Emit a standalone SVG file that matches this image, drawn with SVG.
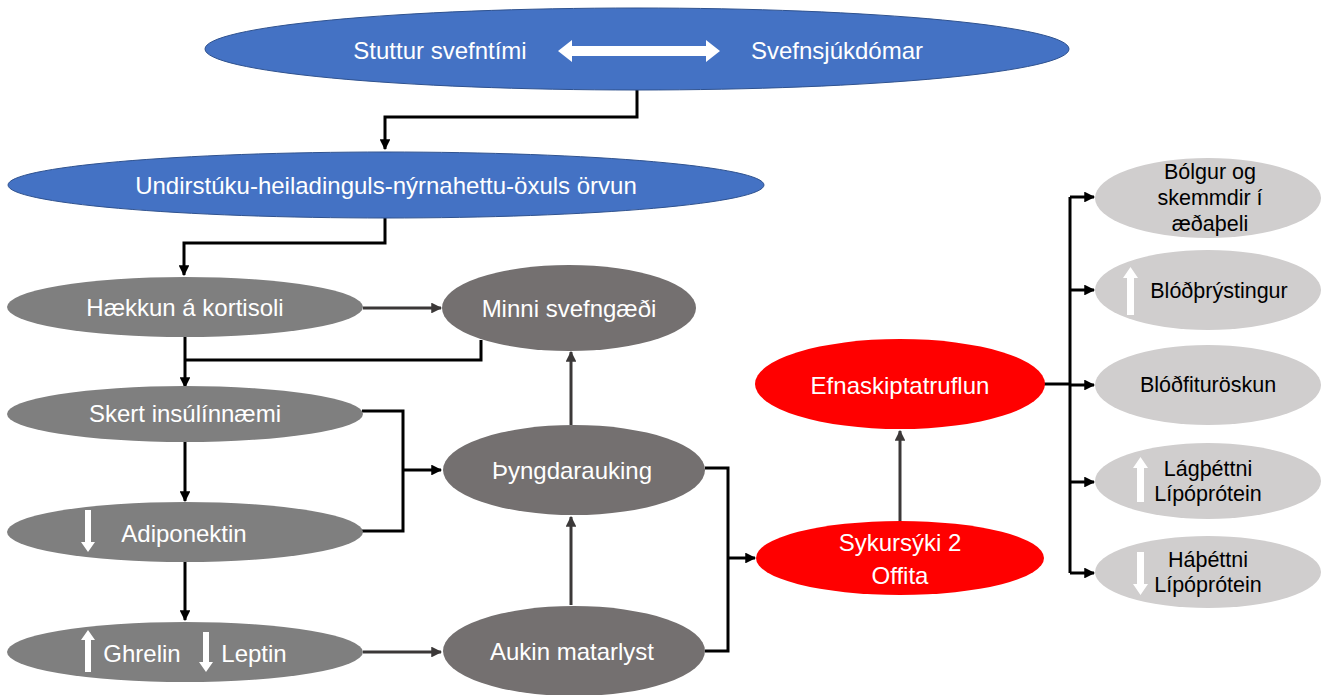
<svg xmlns="http://www.w3.org/2000/svg" width="1325" height="695" viewBox="0 0 1325 695">
<defs>
<marker id="ab" viewBox="0 0 10 10" refX="9" refY="5" markerWidth="3.6" markerHeight="3.6" markerUnits="strokeWidth" orient="auto"><path d="M0,0 L10,5 L0,10 z" fill="#000"/></marker>
<marker id="ag" viewBox="0 0 10 10" refX="9" refY="5" markerWidth="3.6" markerHeight="3.6" markerUnits="strokeWidth" orient="auto"><path d="M0,0 L10,5 L0,10 z" fill="#3b3838"/></marker>
<style>
text{font-family:"Liberation Sans",Arial,sans-serif;text-anchor:middle;dominant-baseline:central}
.w{fill:#fff;font-size:24px}
.k{fill:#000;font-size:21.5px}
.blue{fill:#4472c4;stroke:#2f528f;stroke-width:1}
.g1{fill:#7f7f7f}
.g2{fill:#747070}
.red{fill:#ff0000}
.lg{fill:#d0cece}
.cb{fill:none;stroke:#000;stroke-width:3}
.cg{fill:none;stroke:#3b3838;stroke-width:3}
.wa{fill:#fff}
</style>
</defs>
<g id="connectors">
<path class="cb" d="M637,90 V117 H385 V149" marker-end="url(#ab)"/>
<path class="cb" d="M385,218 V243 H184 V275" marker-end="url(#ab)"/>
<path class="cg" d="M363,308 H441" marker-end="url(#ag)"/>
<path class="cb" d="M185,337 V387" marker-end="url(#ab)"/>
<path class="cb" d="M481,340 V360 H185"/>
<path class="cb" d="M185,442 V501" marker-end="url(#ab)"/>
<path class="cb" d="M185,562 V620" marker-end="url(#ab)"/>
<path class="cb" d="M362,411 H403 V531 H362"/>
<path class="cb" d="M403,470 H441" marker-end="url(#ab)"/>
<path class="cg" d="M363,652 H441" marker-end="url(#ag)"/>
<path class="cg" d="M571,605 V517" marker-end="url(#ag)"/>
<path class="cg" d="M571,425 V352" marker-end="url(#ag)"/>
<path class="cb" d="M705,468 H728 V651 H705"/>
<path class="cb" d="M728,558 H755" marker-end="url(#ab)"/>
<path class="cg" d="M900,521 V431" marker-end="url(#ag)"/>
<path class="cb" d="M1044,384 H1070"/>
<path class="cb" d="M1070,197 V573"/>
<path class="cb" d="M1070,197 H1094" marker-end="url(#ab)"/>
<path class="cb" d="M1070,290 H1094" marker-end="url(#ab)"/>
<path class="cb" d="M1070,385 H1094" marker-end="url(#ab)"/>
<path class="cb" d="M1070,482 H1094" marker-end="url(#ab)"/>
<path class="cb" d="M1070,573 H1094" marker-end="url(#ab)"/>
</g>
<g id="n-top">
<ellipse class="blue" cx="637" cy="49" rx="432" ry="41"/>
<text class="w" x="440" y="50">Stuttur svefntími</text>
<text class="w" x="837" y="50">Svefnsjúkdómar</text>
<polygon class="wa" points="558,51 572,40 572,46 706,46 706,40 720,51 706,62 706,56 572,56 572,62"/>
</g>
<g id="n-hpa">
<ellipse class="blue" cx="386" cy="185" rx="378" ry="33"/>
<text class="w" x="386" y="185">Undirstúku-heiladinguls-nýrnahettu-öxuls örvun</text>
</g>
<g id="n-kortisol">
<ellipse class="g1" cx="185" cy="307" rx="178" ry="30"/>
<text class="w" x="185" y="307">Hækkun á kortisoli</text>
</g>
<g id="n-minni">
<ellipse class="g2" cx="569" cy="308" rx="127" ry="43"/>
<text class="w" x="569" y="308">Minni svefngæði</text>
</g>
<g id="n-skert">
<ellipse class="g1" cx="185" cy="414" rx="178" ry="28"/>
<text class="w" x="185" y="413">Skert insúlínnæmi</text>
</g>
<g id="n-adipo">
<ellipse class="g1" cx="185" cy="532" rx="178" ry="30"/>
<polygon class="wa" points="85,510 91,510 91,542 95,542 88,552 81,542 85,542"/>
<text class="w" x="184" y="533">Adiponektin</text>
</g>
<g id="n-ghrelin">
<ellipse class="g1" cx="185" cy="652" rx="178" ry="30"/>
<polygon class="wa" points="85,672 91,672 91,640 95,640 88,630 81,640 85,640"/>
<text class="w" x="142" y="653">Ghrelin</text>
<polygon class="wa" points="203,632 209,632 209,662 213,662 206,672 199,662 203,662"/>
<text class="w" x="254" y="653">Leptin</text>
</g>
<g id="n-thyngd">
<ellipse class="g2" cx="574" cy="470" rx="131" ry="45"/>
<text class="w" x="572" y="470">Þyngdarauking</text>
</g>
<g id="n-aukin">
<ellipse class="g2" cx="574" cy="651" rx="131" ry="45"/>
<text class="w" x="572" y="651">Aukin matarlyst</text>
</g>
<g id="n-sykur">
<ellipse class="red" cx="900" cy="558" rx="144" ry="37"/>
<text class="w" x="900" y="542">Sykursýki 2</text>
<text class="w" x="900" y="575">Offita</text>
</g>
<g id="n-efna">
<ellipse class="red" cx="900" cy="384" rx="145" ry="45"/>
<text class="w" x="900" y="385">Efnaskiptatruflun</text>
</g>
<g id="n-bolgur">
<ellipse class="lg" cx="1208" cy="198" rx="113" ry="40"/>
<text class="k" x="1210" y="172">Bólgur og</text>
<text class="k" x="1210" y="198">skemmdir í</text>
<text class="k" x="1210" y="224">æðaþeli</text>
</g>
<g id="n-blodthr">
<ellipse class="lg" cx="1208" cy="290" rx="113" ry="40"/>
<polygon class="wa" points="1127,315 1134,315 1134,278 1138,278 1130.5,267 1123,278 1127,278"/>
<text class="k" x="1219" y="291">Blóðþrýstingur</text>
</g>
<g id="n-blodfitu">
<ellipse class="lg" cx="1208" cy="385" rx="113" ry="40"/>
<text class="k" x="1208" y="385">Blóðfituröskun</text>
</g>
<g id="n-lag">
<ellipse class="lg" cx="1208" cy="481" rx="113" ry="38"/>
<polygon class="wa" points="1137,502 1144,502 1144,468 1148,468 1140.5,457 1133,468 1137,468"/>
<text class="k" x="1208" y="469">Lágþéttni</text>
<text class="k" x="1208" y="494">Lípóprótein</text>
</g>
<g id="n-ha">
<ellipse class="lg" cx="1208" cy="572" rx="113" ry="36"/>
<polygon class="wa" points="1137,552 1144,552 1144,584 1148,584 1140.5,595 1133,584 1137,584"/>
<text class="k" x="1208" y="560">Háþéttni</text>
<text class="k" x="1208" y="585">Lípóprótein</text>
</g>
</svg>
